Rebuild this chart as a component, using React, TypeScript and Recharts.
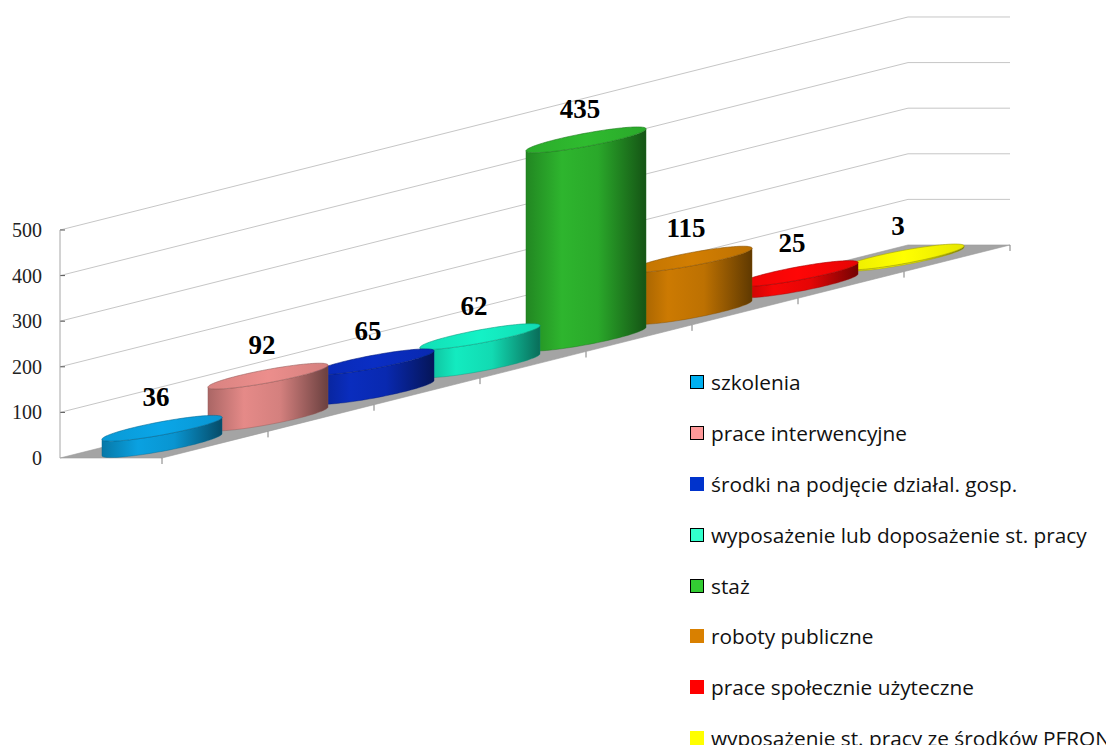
import React from 'react';
import { BarChart, Bar, XAxis, YAxis, CartesianGrid, Legend } from 'recharts';

const CATEGORIES = [
  'szkolenia',
  'prace interwencyjne',
  'środki na podjęcie działal. gosp.',
  'wyposażenie lub doposażenie st. pracy',
  'staż',
  'roboty publiczne',
  'prace społecznie użyteczne',
  'wyposażenie st. pracy ze środków PFRON',
];
const VALUES = [36, 92, 65, 62, 435, 115, 25, 3];
const Y_TICKS = [0, 100, 200, 300, 400, 500];
const COLORS = ['#0aa6e8', '#ec8e8c', '#0a2ec4', '#14f2c6', '#2fbb2f', '#d27e02', '#ff0606', '#ffff00'];
const LEGEND_COLORS = ['#00b0f0', '#ff9999', '#0033cc', '#33ffcc', '#33cc33', '#d98000', '#ff0000', '#ffff00'];
const LEGEND_BORDERED = [true, true, false, true, true, false, false, false];

const W = 1106;
const H = 745;
const Y_AXIS_W = 40;
const MARGIN = { top: 222, right: 206, bottom: 295, left: 12 };
const PLOT_LEFT = MARGIN.left + Y_AXIS_W;
const PLOT_BOTTOM = H - MARGIN.bottom;
const SLOPE = 0.2512;
const DEPTH = 102;
const BASE_DEPTH = 49;
const RA = 51.3;
const RC = 31.2;
const RB = RA * SLOPE;
const TR = Math.atan2(RC, RA);
const SERIF = '"Liberation Serif", "Times New Roman", serif';

const data = CATEGORIES.map((name, i) => ({ name, value: VALUES[i] })).reverse();

function shade(hex: string, f: number) {
  const n = parseInt(hex.slice(1), 16);
  const ch = [(n >> 16) & 255, (n >> 8) & 255, n & 255];
  const adj = (c: number) => (f <= 1 ? Math.round(c * f) : Math.round(c + (255 - c) * (f - 1)));
  return `rgb(${ch.map(adj).join(',')})`;
}

function ePt(cx: number, cy: number, t: number): [number, number] {
  return [cx + RA * Math.cos(t) + RC * Math.sin(t), cy - RB * Math.cos(t)];
}

const Cylinder = (props: any) => {
  const { x, y, width, height, payload, value } = props;
  const i = CATEGORIES.indexOf(payload.name);
  const color = COLORS[i];
  const band = x + width / 2;
  const bx = band + BASE_DEPTH;
  const by = y + height - SLOPE * (band - PLOT_LEFT);
  const ty = by - height;
  const N = 48;
  let body = '';
  const s = ePt(bx, ty, TR);
  body += `M${s[0]},${s[1]}`;
  for (let k = 0; k <= N; k++) {
    const p = ePt(bx, by, TR + (Math.PI * k) / N);
    body += `L${p[0]},${p[1]}`;
  }
  for (let k = N; k >= 0; k--) {
    const p = ePt(bx, ty, TR + (Math.PI * k) / N);
    body += `L${p[0]},${p[1]}`;
  }
  body += 'Z';
  let top = '';
  for (let k = 0; k <= 2 * N; k++) {
    const p = ePt(bx, ty, (Math.PI * k) / N);
    top += `${k === 0 ? 'M' : 'L'}${p[0]},${p[1]}`;
  }
  top += 'Z';
  const label = Array.isArray(value) ? value[1] - value[0] : payload.value;
  return (
    <g>
      <path d={body} fill={`url(#cylBody${i})`} stroke={shade(color, 0.6)} strokeWidth={0.4} />
      <path d={top} fill={`url(#cylTop${i})`} stroke={shade(color, 0.65)} strokeWidth={0.6} />
      <text
        x={bx - 6}
        y={ty - 31}
        textAnchor="middle"
        dominantBaseline="central"
        fontFamily={SERIF}
        fontWeight="bold"
        fontSize={27}
        fill="#000"
      >
        {label}
      </text>
    </g>
  );
};

const gridLine = (p: any) => {
  const { x1, y1, x2 } = p;
  const key = p.key ?? `g${p.index}`;
  const rise = SLOPE * (x2 - x1);
  if (Math.abs(y1 - PLOT_BOTTOM) < 0.5) {
    const n = CATEGORIES.length;
    const step = (x2 - x1) / n;
    const ticks = [];
    for (let k = 0; k <= n; k++) {
      const tx = x1 + DEPTH + k * step;
      const tyy = y1 - SLOPE * k * step;
      ticks.push(<line key={k} x1={tx} y1={tyy} x2={tx} y2={tyy + 6} stroke="#7f7f7f" strokeWidth={1} />);
    }
    return (
      <g key={key}>
        <polygon
          points={`${x1},${y1} ${x2},${y1 - rise} ${x2 + DEPTH},${y1 - rise} ${x1 + DEPTH},${y1}`}
          fill="#a4a4a4"
          stroke="#9a9a9a"
          strokeWidth={0.6}
        />
        {ticks}
      </g>
    );
  }
  return (
    <g key={key}>
      <path
        d={`M${x1},${y1}L${x2},${y1 - rise}L${x2 + DEPTH},${y1 - rise}`}
        stroke="#c6c6c6"
        strokeWidth={1}
        fill="none"
      />
      <line x1={x1} y1={y1} x2={x1 + 5} y2={y1} stroke="#555" strokeWidth={1} />
    </g>
  );
};

const renderTick = (p: any) => (
  <text
    x={p.x}
    y={p.y}
    textAnchor="end"
    dominantBaseline="central"
    fontFamily={SERIF}
    fontSize={20}
    fill="#222"
  >
    {p.payload.value}
  </text>
);

const renderLegend = () => (
  <div style={{ fontFamily: '"Open Sans", "Noto Sans", sans-serif', fontSize: 20.8, color: '#111' }}>
    {CATEGORIES.map((c, i) => (
      <div key={c} style={{ height: 50.8, display: 'flex', alignItems: 'center' }}>
        <span
          style={{
            display: 'inline-block',
            width: 14,
            height: 14,
            boxSizing: 'border-box',
            background: LEGEND_COLORS[i],
            border: LEGEND_BORDERED[i] ? '1.5px solid #000' : 'none',
            marginRight: 7,
            flexShrink: 0,
          }}
        />
        <span style={{ whiteSpace: 'nowrap' }}>{c}</span>
      </div>
    ))}
  </div>
);

export default function App() {
  return (
    <div style={{ position: 'relative', width: W, height: H, marginBottom: -8, marginRight: -8, overflow: 'hidden', background: '#fff' }}>
      <BarChart width={W} height={H} data={data} margin={MARGIN} barCategoryGap={0}>
        <defs>
          {COLORS.map((c, i) => (
            <linearGradient key={`b${i}`} id={`cylBody${i}`} x1="0" y1="0" x2="1" y2="0">
              <stop offset="0" stopColor={shade(c, 0.72)} />
              <stop offset="0.3" stopColor={shade(c, 0.97)} />
              <stop offset="0.6" stopColor={shade(c, 0.9)} />
              <stop offset="1" stopColor={shade(c, 0.45)} />
            </linearGradient>
          ))}
          {COLORS.map((c, i) => (
            <linearGradient key={`t${i}`} id={`cylTop${i}`} x1="0" y1="0" x2="1" y2="0">
              <stop offset="0" stopColor={shade(c, 0.92)} />
              <stop offset="0.5" stopColor={shade(c, 1.0)} />
              <stop offset="1" stopColor={shade(c, 0.9)} />
            </linearGradient>
          ))}
        </defs>
        <CartesianGrid horizontal={gridLine} vertical={false} />
        <XAxis dataKey="name" hide reversed />
        <YAxis
          width={Y_AXIS_W}
          domain={[0, 500]}
          ticks={Y_TICKS}
          tickLine={false}
          tickSize={4}
          tickMargin={14}
          axisLine={{ stroke: '#a6a6a6' }}
          tick={renderTick}
        />
        <Bar dataKey="value" shape={Cylinder} isAnimationActive={false} />
        <Legend
          layout="vertical"
          align="center"
          verticalAlign="middle"
          content={renderLegend}
          wrapperStyle={{ left: 682, top: 349, width: 424, height: 'auto' }}
        />
      </BarChart>
    </div>
  );
}
